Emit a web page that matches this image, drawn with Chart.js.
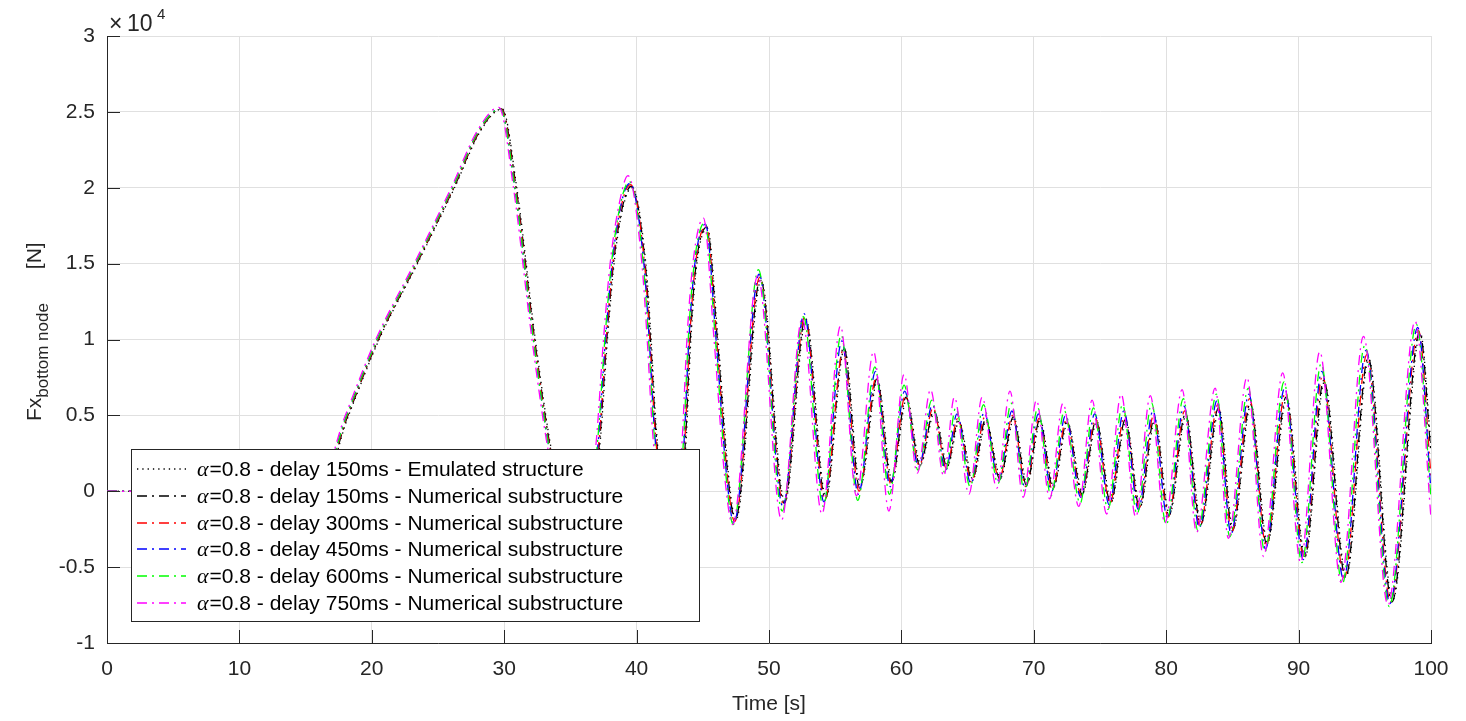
<!DOCTYPE html>
<html>
<head>
<meta charset="utf-8">
<script src="https://cdn.jsdelivr.net/npm/chart.js@4.4.1/dist/chart.umd.min.js"></script>
<style>
  html, body { margin: 0; padding: 0; background: #fff; }
  #wrap { width: 1466px; height: 721px; }
</style>
</head>
<body>
<div id="wrap"><canvas id="chart" width="1466" height="721"></canvas></div>
<script>
// axis ticks
const xTicks = [0, 10, 20, 30, 40, 50, 60, 70, 80, 90, 100];
const yTicks = [-1, -0.5, 0, 0.5, 1, 1.5, 2, 2.5, 3];

const seriesLabels = [
    'α=0.8 - delay 150ms - Emulated structure',
    'α=0.8 - delay 150ms - Numerical substructure',
    'α=0.8 - delay 300ms - Numerical substructure',
    'α=0.8 - delay 450ms - Numerical substructure',
    'α=0.8 - delay 600ms - Numerical substructure',
    'α=0.8 - delay 750ms - Numerical substructure'
];
const seriesColors = ['#000000', '#000000', '#ff0000', '#0000ff', '#00ff00', '#ff00ff'];

// [time s, force x1e4 N] (peaks, troughs and a few points on the big swings)
const emulated150 = [[0,0],[16.05,0],[18.25,0.5],[20.55,1.0],[23.45,1.5],[26.25,2.0],[28.25,2.38],[29.85,2.52],
    [30.95,2.0],[32.35,1.0],[33.55,0.28],[35.55,-0.45],[37.2,0.28],[37.8,1.0],[38.3,1.5],[39.0,1.88],[39.65,2.0],
    [40.7,1.5],[41.1,1.0],[41.5,0.4],[42.6,-0.34],[43.7,0.28],[44.1,1.0],[44.55,1.5],[45.35,1.73],[46.15,1.0],
    [46.95,0.1],[47.5,-0.19],[49.4,1.39],[51.2,-0.07],[52.8,1.13],[54.3,-0.04],[55.7,0.94],[56.9,0.03],[58.2,0.73],
    [59.3,0.07],[60.4,0.61],[61.45,0.18],[62.5,0.52],[63.5,0.17],[64.35,0.46],[65.4,0.08],[66.4,0.46],[67.5,0.09],
    [68.5,0.48],[69.5,0.05],[70.5,0.46],[71.5,0.03],[72.55,0.45],[73.7,-0.01],[74.75,0.46],[75.85,-0.07],[76.95,0.46],
    [78.05,-0.10],[79.15,0.47],[80.25,-0.15],[81.5,0.50],[82.65,-0.21],[84.0,0.54],[85.05,-0.25],[86.4,0.57],
    [87.65,-0.34],[89.1,0.61],[90.5,-0.43],[91.95,0.72],[93.6,-0.56],[95.3,0.87],[97.1,-0.72],[99.2,1.04],[100,0.3]];

const numerical150 = [[0,0],[16.0,0],[18.2,0.5],[20.5,1.0],[23.4,1.5],[26.2,2.0],[28.2,2.38],[29.8,2.52],
    [30.9,2.0],[32.3,1.0],[33.5,0.28],[35.5,-0.45],[37.15,0.28],[37.75,1.0],[38.25,1.5],[38.95,1.88],[39.6,2.01],
    [40.65,1.5],[41.05,1.0],[41.45,0.4],[42.55,-0.35],[43.65,0.28],[44.05,1.0],[44.5,1.5],[45.3,1.74],[46.1,1.0],
    [46.9,0.1],[47.45,-0.19],[49.35,1.40],[51.15,-0.08],[52.75,1.14],[54.25,-0.05],[55.65,0.95],[56.85,0.02],[58.15,0.74],
    [59.25,0.06],[60.35,0.62],[61.4,0.17],[62.45,0.53],[63.45,0.16],[64.3,0.47],[65.35,0.07],[66.35,0.47],[67.45,0.08],
    [68.45,0.49],[69.45,0.04],[70.45,0.47],[71.45,0.02],[72.5,0.46],[73.65,-0.02],[74.7,0.47],[75.8,-0.08],[76.9,0.47],
    [78.0,-0.11],[79.1,0.48],[80.2,-0.16],[81.45,0.51],[82.6,-0.22],[83.95,0.55],[85.0,-0.26],[86.35,0.58],
    [87.6,-0.35],[89.05,0.62],[90.45,-0.44],[91.9,0.73],[93.55,-0.57],[95.25,0.88],[97.05,-0.73],[99.15,1.05],[100,0.25]];

const numerical300 = [[0,0],[15.95,0],[18.15,0.5],[20.45,1.0],[23.35,1.5],[26.15,2.0],[28.15,2.38],[29.75,2.52],
    [30.85,2.0],[32.25,1.0],[33.45,0.28],[35.45,-0.45],[37.1,0.28],[37.7,1.0],[38.2,1.5],[38.9,1.9],[39.55,2.02],
    [40.6,1.5],[41.0,1.0],[41.4,0.4],[42.5,-0.36],[43.6,0.28],[44.0,1.0],[44.45,1.5],[45.25,1.75],[46.05,1.0],
    [46.85,0.1],[47.4,-0.2],[49.3,1.41],[51.1,-0.09],[52.7,1.15],[54.2,-0.06],[55.6,0.93],[56.8,0.0],[58.1,0.75],
    [59.2,0.05],[60.3,0.63],[61.35,0.17],[62.4,0.55],[63.4,0.15],[64.25,0.48],[65.3,0.06],[66.3,0.49],[67.4,0.08],
    [68.4,0.50],[69.4,0.03],[70.4,0.48],[71.4,0.01],[72.45,0.47],[73.6,-0.03],[74.65,0.48],[75.75,-0.08],[76.85,0.50],
    [77.95,-0.11],[79.05,0.50],[80.15,-0.17],[81.4,0.53],[82.55,-0.23],[83.9,0.57],[84.95,-0.27],[86.3,0.61],
    [87.55,-0.36],[89.0,0.65],[90.4,-0.44],[91.8,0.76],[93.45,-0.57],[95.15,0.90],[96.95,-0.73],[99.05,1.06],[100,0.1]];

const numerical450 = [[0,0],[15.9,0],[18.1,0.5],[20.4,1.0],[23.3,1.5],[26.1,2.0],[28.1,2.38],[29.7,2.52],
    [30.8,2.0],[32.2,1.0],[33.4,0.28],[35.4,-0.46],[37.05,0.28],[37.65,1.0],[38.15,1.5],[38.85,1.9],[39.5,2.03],
    [40.55,1.5],[40.95,1.0],[41.35,0.4],[42.45,-0.37],[43.55,0.28],[43.95,1.0],[44.4,1.5],[45.2,1.76],[46.0,1.0],
    [46.8,0.1],[47.35,-0.21],[49.25,1.43],[51.05,-0.10],[52.65,1.17],[54.15,-0.07],[55.5,0.99],[56.75,-0.02],[58.05,0.79],
    [59.15,0.03],[60.25,0.66],[61.3,0.16],[62.35,0.57],[63.35,0.14],[64.2,0.51],[65.25,0.05],[66.25,0.52],[67.35,0.07],
    [68.35,0.53],[69.35,0.02],[70.35,0.51],[71.35,0.0],[72.4,0.50],[73.55,-0.04],[74.6,0.51],[75.7,-0.09],[76.8,0.53],
    [77.9,-0.12],[79.0,0.53],[80.1,-0.18],[81.35,0.56],[82.5,-0.24],[83.85,0.60],[84.9,-0.28],[86.25,0.64],
    [87.5,-0.38],[88.95,0.68],[90.35,-0.45],[91.75,0.79],[93.4,-0.58],[95.1,0.93],[96.9,-0.74],[99.0,1.08],[100,0.0]];

const numerical600 = [[0,0],[15.9,0],[18.1,0.5],[20.4,1.0],[23.3,1.5],[26.1,2.0],[28.1,2.38],[29.7,2.52],
    [30.8,2.0],[32.2,1.0],[33.4,0.28],[35.4,-0.47],[37.0,0.28],[37.6,1.0],[38.1,1.5],[38.8,1.9],[39.45,2.04],
    [40.5,1.5],[40.9,1.0],[41.3,0.4],[42.4,-0.38],[43.5,0.28],[43.9,1.0],[44.35,1.5],[45.15,1.77],[45.95,1.0],
    [46.75,0.1],[47.3,-0.22],[49.2,1.46],[51.0,-0.13],[52.6,1.15],[54.1,-0.1],[55.45,1.03],[56.7,-0.06],[58.0,0.82],
    [59.1,-0.02],[60.2,0.70],[61.25,0.14],[62.3,0.60],[63.3,0.12],[64.1,0.55],[65.2,0.03],[66.2,0.57],[67.3,0.05],
    [68.3,0.58],[69.3,0.0],[70.3,0.55],[71.3,-0.03],[72.3,0.53],[73.5,-0.08],[74.5,0.55],[75.6,-0.12],[76.7,0.57],
    [77.8,-0.15],[78.9,0.58],[80.0,-0.22],[81.3,0.61],[82.4,-0.26],[83.8,0.64],[84.8,-0.30],[86.2,0.68],
    [87.45,-0.40],[88.9,0.72],[90.25,-0.47],[91.7,0.84],[93.3,-0.61],[95.0,0.96],[96.85,-0.76],[98.9,1.10],[100,-0.05]];

const numerical750 = [[0,0],[15.8,0],[18.0,0.5],[20.3,1.0],[23.2,1.5],[26.0,2.0],[28.0,2.38],[29.6,2.53],
    [30.7,2.0],[32.1,1.0],[33.3,0.28],[35.3,-0.5],[36.9,0.28],[37.5,1.0],[38.0,1.5],[38.7,1.9],[39.35,2.08],
    [40.4,1.5],[40.8,1.0],[41.2,0.4],[42.3,-0.4],[43.4,0.28],[43.8,1.0],[44.25,1.5],[45.05,1.8],[45.85,1.0],
    [46.65,0.1],[47.25,-0.22],[49.15,1.42],[50.95,-0.19],[52.5,1.14],[54.0,-0.15],[55.4,1.09],[56.6,-0.03],[57.9,0.92],
    [59.05,-0.13],[60.2,0.77],[61.2,0.12],[62.2,0.67],[63.2,0.10],[64.0,0.62],[65.1,-0.02],[66.1,0.62],[67.2,0.02],
    [68.2,0.66],[69.2,-0.04],[70.2,0.60],[71.2,-0.05],[72.2,0.58],[73.4,-0.10],[74.4,0.60],[75.5,-0.15],[76.6,0.64],
    [77.7,-0.17],[78.8,0.63],[79.9,-0.21],[81.2,0.67],[82.3,-0.27],[83.7,0.68],[84.7,-0.31],[86.1,0.75],
    [87.35,-0.43],[88.8,0.78],[90.15,-0.47],[91.6,0.92],[93.2,-0.6],[94.9,1.02],[96.75,-0.75],[98.8,1.12],[100,-0.18]];

const allSeries = [emulated150, numerical150, numerical300, numerical450, numerical600, numerical750];
const seriesDash = [[1.3, 4], [10, 5, 2, 5], [10, 5, 2, 5], [10, 5, 2, 5], [10, 5, 2, 5], [10, 5, 2, 5]];

const FONT = '"Liberation Sans", Arial, Helvetica, sans-serif';
const TEXT = '#262626';

const datasets = allSeries.map((s, i) => ({
    label: seriesLabels[i],
    data: s.map(p => ({x: p[0], y: p[1]})),
    borderColor: seriesColors[i],
    borderWidth: 1.3,
    borderDash: seriesDash[i],
    pointRadius: 0,
    fill: false,
    cubicInterpolationMode: 'monotone',
    order: allSeries.length - 1 - i // magenta ends up on top, like the original
}));

// extra bits matlab draws: inward ticks, exponent, axis titles, legend box
const decorations = {
    id: 'decorations',
    afterDraw(chart) {
        const {ctx, chartArea: a, scales: {x, y}} = chart;
        ctx.save();

        ctx.strokeStyle = TEXT;
        ctx.lineWidth = 1;
        ctx.setLineDash([]);
        ctx.beginPath();
        xTicks.forEach(t => {
            const px = Math.round(x.getPixelForValue(t)) + 0.5;
            ctx.moveTo(px, a.bottom);
            ctx.lineTo(px, a.bottom - 13);
        });
        yTicks.forEach(v => {
            const py = Math.round(y.getPixelForValue(v)) + 0.5;
            ctx.moveTo(a.left, py);
            ctx.lineTo(a.left + 13, py);
        });
        ctx.stroke();

        ctx.fillStyle = TEXT;
        ctx.textBaseline = 'alphabetic';
        ctx.textAlign = 'left';
        ctx.font = '23px ' + FONT;
        ctx.fillText('×', 109, 31);
        ctx.fillText('10', 127, 31);
        ctx.font = '15px ' + FONT;
        ctx.fillText('4', 157, 19);

        ctx.font = '21px ' + FONT;
        ctx.textAlign = 'center';
        ctx.textBaseline = 'middle';
        ctx.fillText('Time [s]', (a.left + a.right) / 2, 704);

        // y title, rotated, with subscript
        ctx.save();
        ctx.translate(35, 421);
        ctx.rotate(-Math.PI / 2);
        ctx.textAlign = 'left';
        ctx.font = '21px ' + FONT;
        ctx.fillText('Fx', 0, 0);
        let w = ctx.measureText('Fx').width;
        ctx.font = '17px ' + FONT;
        ctx.fillText('bottom node', w, 8);
        w += ctx.measureText('bottom node').width + 34;
        ctx.font = '21px ' + FONT;
        ctx.fillText('[N]', w, 0);
        ctx.restore();

        // legend
        const bx = 131, by = 449, bw = 568, bh = 172;
        ctx.fillStyle = '#ffffff';
        ctx.fillRect(bx, by, bw, bh);
        ctx.strokeStyle = TEXT;
        ctx.lineWidth = 1;
        ctx.strokeRect(bx + 0.5, by + 0.5, bw, bh);
        seriesLabels.forEach((lab, i) => {
            const ry = Math.round(by + 20 + i * 26.8);
            ctx.strokeStyle = seriesColors[i];
            ctx.lineWidth = 1.5;
            ctx.setLineDash(seriesDash[i]);
            ctx.beginPath();
            ctx.moveTo(137, ry);
            ctx.lineTo(186, ry);
            ctx.stroke();
            ctx.setLineDash([]);
            ctx.fillStyle = '#000000';
            ctx.textAlign = 'left';
            ctx.textBaseline = 'middle';
            ctx.font = 'italic 22px "Liberation Serif", "DejaVu Serif", serif';
            ctx.fillText(lab.charAt(0), 197, ry + 1);
            const aw = ctx.measureText(lab.charAt(0)).width;
            ctx.font = '21px ' + FONT;
            ctx.fillText(lab.slice(1), 197 + aw + 1, ry + 1);
        });

        ctx.restore();
    }
};

new Chart(document.getElementById('chart'), {
    type: 'line',
    data: {datasets: datasets},
    options: {
        responsive: false,
        animation: false,
        devicePixelRatio: 1,
        layout: {padding: {left: 0, right: 35, top: 36, bottom: 0}},
        plugins: {legend: {display: false}, tooltip: {enabled: false}},
        scales: {
            x: {
                type: 'linear',
                min: 0,
                max: 100,
                afterFit: s => { s.height = 78; },
                afterBuildTicks: s => { s.ticks = xTicks.map(v => ({value: v})); },
                grid: {color: '#e0e0e0', drawTicks: false},
                border: {display: true, color: TEXT, width: 1},
                ticks: {color: TEXT, font: {family: FONT, size: 21}, padding: 14, maxRotation: 0, autoSkip: false}
            },
            y: {
                type: 'linear',
                min: -1,
                max: 3,
                afterFit: s => { s.width = 107; },
                afterBuildTicks: s => { s.ticks = yTicks.map(v => ({value: v})); },
                grid: {color: '#e0e0e0', drawTicks: false},
                border: {display: true, color: TEXT, width: 1},
                ticks: {color: TEXT, font: {family: FONT, size: 21}, padding: 12, callback: v => String(v)}
            }
        }
    },
    plugins: [decorations]
});
</script>
</body>
</html>
